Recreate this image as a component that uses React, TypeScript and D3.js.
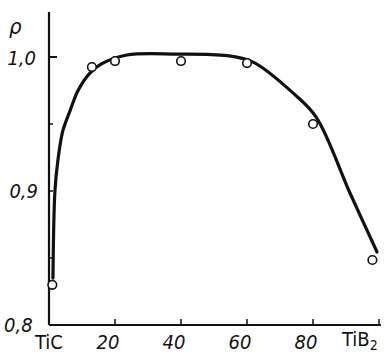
import * as d3 from 'd3';
import React from "react";

// measured points (circles)
const pointX = [1, 13, 20, 40, 60, 80, 98];
const pointY = [0.83, 0.9925, 0.997, 0.997, 0.9955, 0.95, 0.8485];

// hand-drawn fit curve
const curveX = [1.2, 1.8, 2.7, 4.2, 6.4, 8.8, 12.4, 16, 23.6, 38.8, 54, 62, 74, 81, 91.2, 99.4];
const curveY = [0.835, 0.9, 0.923, 0.945, 0.96, 0.975, 0.988, 0.995, 1.0015, 1.0022, 1.001, 0.996, 0.973, 0.955, 0.8985, 0.8545];

const xTicks = [20, 40, 60, 80, 100];
const xTickLabels = ["20", "40", "60", "80"];
const yMinorTicks = [0.85, 0.9, 0.95];
const yTickLabels = ["0,8", "0,9", "1,0"];

const W = 387, H = 356;
const font = "'Liberation Sans Narrow', 'DejaVu Sans Condensed', sans-serif";

export default function App() {
  const x = d3.scaleLinear().domain([0, 100]).range([49, 379]);
  const y = d3.scaleLinear().domain([0.8, 1.0]).range([325, 57]);

  const line = d3.line<number>()
    .x((_, i) => x(curveX[i]))
    .y(d => y(d))
    .curve(d3.curveCatmullRom.alpha(0.5));

  const txt = { fontFamily: font, fontStyle: "italic", fontSize: 20, fill: "#111" } as const;

  return (
    <svg width={W} height={H} style={{ position: "absolute", left: 0, top: 0, background: "#fff" }}>
      {/* axes */}
      <line x1={x(0)} x2={x(0)} y1={12} y2={y(0.8)} stroke="#111" strokeWidth={2.2} />
      <line x1={x(0)} x2={x(100) + 2} y1={y(0.8)} y2={y(0.8)} stroke="#111" strokeWidth={2} />
      <line x1={x(0)} x2={x(0) + 8} y1={y(1.0)} y2={y(1.0)} stroke="#111" strokeWidth={2} />
      {yMinorTicks.map(t => (
        <line key={t} x1={x(0)} x2={x(0) + 4} y1={y(t)} y2={y(t)} stroke="#111" strokeWidth={1.5} />
      ))}
      {xTicks.map(t => (
        <line key={t} x1={x(t)} x2={x(t)} y1={y(0.8)} y2={y(0.8) - 6} stroke="#111" strokeWidth={1.5} />
      ))}

      {/* curve */}
      <path d={line(curveY) ?? undefined} fill="none" stroke="#111" strokeWidth={3.2} strokeLinecap="round" />

      {/* points */}
      {pointX.map((px, i) => (
        <circle key={i} cx={x(px)} cy={y(pointY[i])} r={4.3} fill="#fff" stroke="#111" strokeWidth={1.6} />
      ))}

      {/* y labels */}
      <text x={36} y={y(1.0) + 8} textAnchor="end" {...txt}>{yTickLabels[2]}</text>
      <text x={38} y={y(0.9) + 7} textAnchor="end" {...txt}>{yTickLabels[1]}</text>
      <text x={4} y={y(0.8) + 7} {...txt}>{yTickLabels[0]}</text>
      <text x={9} y={34} {...txt} fontSize={22}>ρ</text>

      {/* x labels */}
      <text x={x(0) - 14} y={349} {...txt} fontStyle="normal">TiC</text>
      {xTickLabels.map((l, i) => (
        <text key={l} x={x(xTicks[i]) - 7} y={349} textAnchor="middle" {...txt}>{l}</text>
      ))}
      <text x={342} y={346} {...txt} fontStyle="normal">TiB<tspan fontSize={14} dy={4}>2</tspan></text>
    </svg>
  );
}
